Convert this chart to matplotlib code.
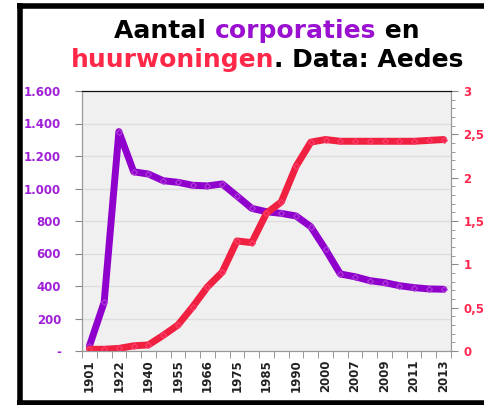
import matplotlib
matplotlib.use("Agg")
import matplotlib.pyplot as plt
from matplotlib.lines import Line2D
from matplotlib.ticker import MultipleLocator, FixedLocator, FuncFormatter

jaren = ["1901", "1910", "1922", "1930", "1940", "1950", "1955", "1960", "1966",
         "1970", "1975", "1980", "1985", "1988", "1990", "1995", "2000", "2005",
         "2007", "2008", "2009", "2010", "2011", "2012", "2013"]
corporaties = [30, 300, 1350, 1103, 1089, 1048, 1038, 1020, 1016, 1028, 954, 878,
               857, 847, 831, 765, 625, 474, 457, 433, 421, 402, 390, 382, 380]
# huurwoningen in miljoenen
huurwoningen = [0.02, 0.02, 0.03, 0.06, 0.07, 0.18, 0.30, 0.51, 0.74, 0.91, 1.27,
                1.25, 1.59, 1.72, 2.13, 2.41, 2.44, 2.42, 2.42, 2.42, 2.42, 2.42,
                2.42, 2.43, 2.44]

paars = "#9000CC"
rood = "#F02040"
W, H = 485, 405

plt.rcParams["font.family"] = "DejaVu Sans"
fig = plt.figure(figsize=(W / 100, H / 100), dpi=100)
ax = fig.add_axes([82 / W, 1 - 351 / H, (451 - 82) / W, 260 / H])
ax.set_facecolor("#F0F0F0")

x = list(range(len(jaren)))
ax.plot(x, corporaties, color=paars, lw=5, solid_joinstyle="round",
        solid_capstyle="round", marker="D", ms=3, mfc="none", mec="#B040D8", mew=0.8)
ax.set_ylim(0, 1600)
ax.set_xlim(-0.5, len(jaren) - 0.5)
ax.yaxis.set_major_locator(MultipleLocator(200))
ax.yaxis.set_major_formatter(FuncFormatter(
    lambda v, p: "-" if v == 0 else f"{int(v):,}".replace(",", ".")))
ax.grid(axis="y", color="#DDDDDD", lw=1)
ax.set_axisbelow(True)

ax.set_xticks(x[::2])
ax.set_xticklabels(jaren[::2], rotation=90, fontsize=8.5, fontweight="bold", color="#222222")
ax.xaxis.set_minor_locator(FixedLocator([i - 0.5 for i in range(len(jaren) + 1)]))
ax.tick_params(axis="x", which="major", length=0, pad=6)
ax.tick_params(axis="x", which="minor", length=5, color="#888888", direction="out")

ax2 = ax.twinx()
ax2.plot(x, huurwoningen, color=rood, lw=5, solid_joinstyle="round",
         solid_capstyle="round", marker="D", ms=3, mfc="none", mec="#FF4070", mew=0.8)
ax2.set_ylim(0, 3)
ax2.yaxis.set_major_locator(MultipleLocator(0.5))
ax2.yaxis.set_minor_locator(MultipleLocator(0.1))
ax2.yaxis.set_major_formatter(FuncFormatter(
    lambda v, p: f"{v:g}".replace(".", ",")))

ax.tick_params(axis="y", length=5, color="#888888", labelsize=8.5,
               labelcolor="#A020D8", pad=10)
ax2.tick_params(axis="y", which="major", length=5, color="#888888", labelsize=8.5,
                labelcolor="#FF2850", pad=4)
ax2.tick_params(axis="y", which="minor", length=3, color="#888888")
for lab in ax.get_yticklabels() + ax2.get_yticklabels():
    lab.set_fontweight("bold")
for a in (ax, ax2):
    for s in ["left", "bottom", "right"]:
        a.spines[s].set_color("#999999")
    a.spines["top"].set_color("#111111")

# titel in meerdere kleuren
fig.canvas.draw()
r = fig.canvas.get_renderer()

def kleurregel(delen, y, cx=267):
    texts = [fig.text(0, 1 - y / H, t, color=c, fontsize=18, fontweight="bold",
                      va="baseline") for t, c in delen]
    widths = [t.get_window_extent(r).width for t in texts]
    start = cx - sum(widths) / 2
    for t, w in zip(texts, widths):
        t.set_x(start / W)
        start += w

kleurregel([("Aantal ", "black"), ("corporaties", "#9A10D0"), (" en", "black")], 38)
kleurregel([("huurwoningen", "#FF2848"), (". Data: Aedes", "black")], 67)

# zwarte kader (boven, links, onder)
kader = dict(color="black", lw=4, solid_capstyle="butt", transform=fig.transFigure)
fig.add_artist(Line2D([17 / W, 1], [1 - 5.5 / H, 1 - 5.5 / H], **kader))
fig.add_artist(Line2D([19.5 / W, 19.5 / W], [1 - 3 / H, 1 - 405 / H], **kader))
fig.add_artist(Line2D([17 / W, 1], [1 - 402.5 / H, 1 - 402.5 / H], **kader))

fig.savefig("out.png", dpi=100)
